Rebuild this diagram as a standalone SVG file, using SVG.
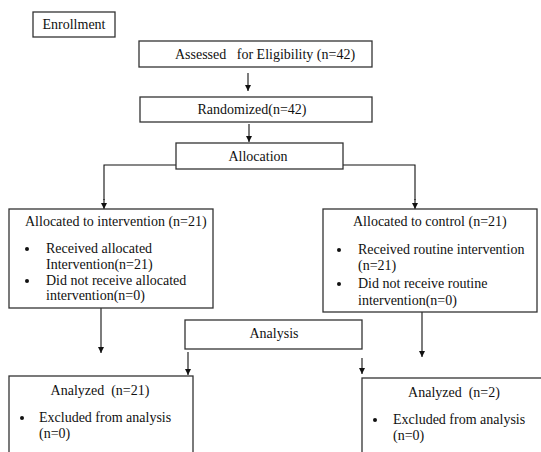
<svg xmlns="http://www.w3.org/2000/svg" width="541" height="452" viewBox="0 0 541 452">
<defs>
<marker id="ah" viewBox="0 0 10 10" refX="10" refY="5" markerWidth="6" markerHeight="6" markerUnits="userSpaceOnUse" orient="auto">
<path d="M0,0 L10,5 L0,10 z" fill="#111"/>
</marker>
<style>
.box{fill:#fff;stroke:#333;stroke-width:1.3}
.t{font-family:'Liberation Serif','Times New Roman',serif;font-size:14px;fill:#111;white-space:pre}
.c{text-anchor:middle}
.ln{fill:none;stroke:#111;stroke-width:1.1}
.ar{fill:none;stroke:#111;stroke-width:1.1;marker-end:url(#ah)}
.bl{fill:#111}
</style>
</defs>
<rect width="541" height="452" fill="#fff"/>
<g id="connectors">
<line class="ar" x1="248" y1="73" x2="248" y2="91"/>
<line class="ar" x1="249" y1="124" x2="249" y2="142"/>
<polyline class="ln" points="176,165 104,165 104,200"/>
<line class="ar" x1="104" y1="199" x2="104" y2="209"/>
<polyline class="ln" points="343,165 415,165 415,200"/>
<line class="ar" x1="415" y1="199" x2="415" y2="209"/>
<line class="ar" x1="101" y1="308" x2="101" y2="353"/>
<line class="ar" x1="422" y1="312" x2="422" y2="357"/>
<line class="ar" x1="188" y1="352" x2="188" y2="375"/>
<line class="ar" x1="362" y1="358" x2="362" y2="374"/>
</g>
<g id="enrollment">
<rect class="box" x="33" y="12" width="82" height="25"/>
<text class="t c" x="74" y="29">Enrollment</text>
</g>
<g id="assessed">
<rect class="box" x="139" y="41" width="233" height="26"/>
<text class="t c" x="265" y="59">Assessed   for Eligibility (n=42)</text>
</g>
<g id="randomized">
<rect class="box" x="140" y="97" width="232" height="25"/>
<text class="t c" x="252" y="114">Randomized(n=42)</text>
</g>
<g id="allocation">
<rect class="box" x="176" y="143" width="167" height="26"/>
<text class="t c" x="258" y="161">Allocation</text>
</g>
<g id="intervention">
<rect class="box" x="9" y="209" width="204" height="99"/>
<text class="t" x="25" y="226">Allocated to intervention (n=21)</text>
<circle class="bl" cx="27" cy="249" r="2"/>
<text class="t" x="46" y="253">Received allocated</text>
<text class="t" x="46" y="269">Intervention(n=21)</text>
<circle class="bl" cx="27" cy="281" r="2"/>
<text class="t" x="46" y="285">Did not receive allocated</text>
<text class="t" x="46" y="300">intervention(n=0)</text>
</g>
<g id="control">
<rect class="box" x="323" y="209" width="214" height="103"/>
<text class="t" x="353" y="226">Allocated to control (n=21)</text>
<circle class="bl" cx="339" cy="250" r="2"/>
<text class="t" x="358" y="254">Received routine intervention</text>
<text class="t" x="358" y="270">(n=21)</text>
<circle class="bl" cx="339" cy="284" r="2"/>
<text class="t" x="358" y="288">Did not receive routine</text>
<text class="t" x="358" y="305">intervention(n=0)</text>
</g>
<g id="analysis">
<rect class="box" x="185" y="320" width="177" height="29"/>
<text class="t c" x="274" y="338">Analysis</text>
</g>
<g id="analyzed-intervention">
<rect class="box" x="9" y="376" width="184" height="90"/>
<text class="t c" x="100" y="395">Analyzed  (n=21)</text>
<circle class="bl" cx="22" cy="418" r="2"/>
<text class="t" x="39" y="422">Excluded from analysis</text>
<text class="t" x="39" y="438">(n=0)</text>
</g>
<g id="analyzed-control">
<rect class="box" x="362" y="378" width="190" height="90"/>
<text class="t c" x="454" y="397">Analyzed  (n=2)</text>
<circle class="bl" cx="375" cy="420" r="2"/>
<text class="t" x="393" y="424">Excluded from analysis</text>
<text class="t" x="393" y="440">(n=0)</text>
</g>
</svg>
